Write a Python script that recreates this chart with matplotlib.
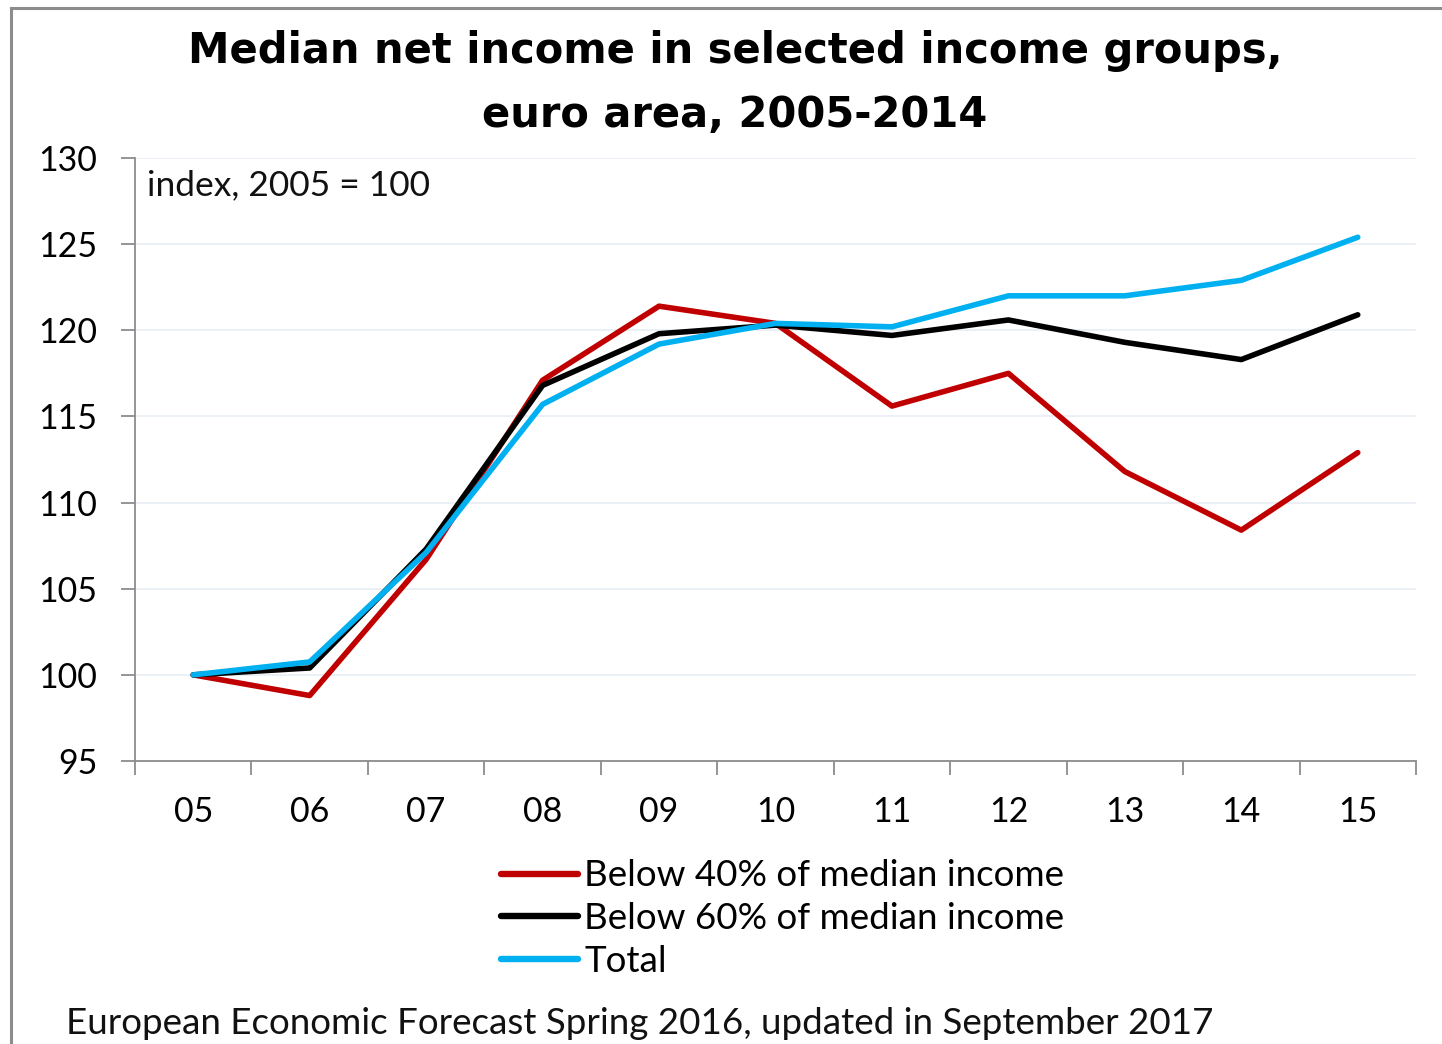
import numpy as np
import matplotlib.pyplot as plt
from matplotlib.lines import Line2D

years = ["05", "06", "07", "08", "09", "10", "11", "12", "13", "14", "15"]
below_40 = [100.0, 98.8, 106.7, 117.1, 121.4, 120.4, 115.6, 117.5, 111.8, 108.4, 112.9]
below_60 = [100.0, 100.4, 107.3, 116.8, 119.8, 120.3, 119.7, 120.6, 119.3, 118.3, 120.9]
total = [100.0, 100.75, 107.1, 115.7, 119.2, 120.4, 120.2, 122.0, 122.0, 122.9, 125.4]

labels = ["Below 40% of median income", "Below 60% of median income", "Total"]
colors = ["#C00000", "#000000", "#00B0F0"]

plt.rcParams['font.family'] = ['Lato', 'DejaVu Sans']

W, H = 1442, 1044
fig = plt.figure(figsize=(W / 100, H / 100), dpi=100)

# outer frame (only top and left edges are visible)
fig.add_artist(Line2D([11 / W, 11 / W], [0, 1 - 8 / H], color="#8c8c8c", lw=2.2))
fig.add_artist(Line2D([11 / W, 1], [1 - 8 / H, 1 - 8 / H], color="#8c8c8c", lw=2.2))

ax = fig.add_axes([135 / W, 1 - 761 / H, (1416 - 135) / W, (761 - 158) / H])

x = np.arange(len(years))
for series, lab, col in zip([below_40, below_60, total], labels, colors):
    ax.plot(x, series, color=col, lw=4.0, solid_capstyle="round",
            solid_joinstyle="round", label=lab)

ax.set_xlim(-0.5, len(years) - 0.5)
ax.set_ylim(95, 130)
ax.set_yticks(np.arange(95, 131, 5))
ax.grid(axis="y", color="#e6edf4", lw=1.2)
ax.set_axisbelow(True)

# category ticks sit between the labels
ax.set_xticks(np.arange(-0.5, len(years)), minor=False)
ax.set_xticklabels([])
ax.set_xticks(x, minor=True)
ax.set_xticklabels(years, minor=True)
ax.tick_params(axis="x", which="major", length=10, width=1.3, color="#8c8c8c", direction="out")
ax.tick_params(axis="x", which="minor", length=0, pad=25, labelsize=24.5)
ax.tick_params(axis="y", length=10, width=1.3, color="#8c8c8c", labelsize=24.5, pad=17)

for s in ["top", "right"]:
    ax.spines[s].set_visible(False)
for s in ["left", "bottom"]:
    ax.spines[s].set_color("#8c8c8c")
    ax.spines[s].set_linewidth(1.3)

ax.text(147 / W, 1 - 185 / H, "index, 2005 = 100", transform=fig.transFigure,
        fontsize=25.5, va="center", ha="left", color="#111111")

fig.text(735 / W, 1 - 83 / H, "Median net income in selected income groups,\neuro area, 2005-2014",
         ha="center", va="center", fontsize=30, fontweight="bold", family=["DejaVu Sans"],
         linespacing=1.64)

handles = [Line2D([0], [0], color=c, lw=4.6, solid_capstyle="round") for c in colors]
fig.legend(handles, labels, loc="upper left", bbox_to_anchor=(483 / W, 1 - 841 / H),
           frameon=False, fontsize=26.5, handlelength=2.07, handletextpad=0.18,
           labelspacing=0.26, borderpad=0)

fig.text(66 / W, 1 - 1024 / H,
         "European Economic Forecast Spring 2016, updated in September 2017",
         ha="left", va="center", fontsize=26.5, color="#111111")

fig.savefig("out.png", dpi=100)
